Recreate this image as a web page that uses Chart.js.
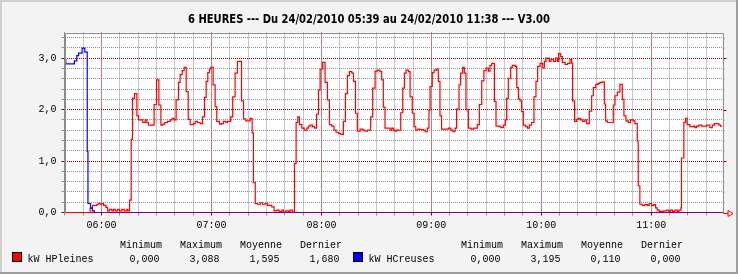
<!DOCTYPE html>
<html><head><meta charset="utf-8">
<script src="https://cdn.jsdelivr.net/npm/chart.js@4.4.0/dist/chart.umd.min.js"></script>
<style>html,body{margin:0;padding:0;background:#f3f3f3;}canvas{display:block;}</style>
</head><body>
<canvas id="c" width="738" height="274"></canvas>
<script>
// ---- chart texts ----
const titleText = '6 HEURES --- Du 24/02/2010 05:39 au 24/02/2010 11:38 --- V3.00';
const hourTicks = [360, 420, 480, 540, 600, 660];
const hourLabels = ['06:00', '07:00', '08:00', '09:00', '10:00', '11:00'];
const yTickValues = [0, 1, 2, 3];
const yTickLabels = ['0,0', '1,0', '2,0', '3,0'];
const seriesNames = ['kW HPleines', 'kW HCreuses'];
const statHeaders = ['Minimum', 'Maximum', 'Moyenne', 'Dernier'];
const hpStats = ['0,000', '3,088', '1,595', '1,680'];
const hcStats = ['0,000', '3,195', '0,110', '0,000'];

// ---- time range (minutes after midnight) ----
const xStart = 339.8;
const xEnd = 698.9;

// ---- kW HPleines: time where each value starts (minutes), value (kW) ----
const hpTimes = [339.8,353.8,355.1,357.5,358.4,359.3,360.2,361.1,362.4,363.3,364.4,365.6,366.5,367.5,368.7,369.8,371.1,372.4,373.8,374.4,
375.3,376.2,376.9,378.0,379.3,380.2,382.5,383.8,384.7,385.6,388.7,390.0,391.3,392.4,393.5,394.5,396.0,397.5,398.5,399.6,
400.7,402.0,402.9,404.0,405.1,406.2,407.3,408.4,410.2,411.1,412.4,413.8,415.1,416.2,417.1,418.0,418.9,419.6,420.9,422.0,
422.9,424.4,425.3,426.5,427.8,428.7,430.5,431.6,432.9,434.2,436.4,437.5,438.7,441.1,442.2,442.9,443.9,445.1,446.6,447.8,
449.3,450.6,452.9,454.2,455.6,456.9,458.4,459.3,460.6,462.0,462.9,464.2,465.3,466.2,467.1,468.0,469.3,470.6,472.0,472.9,
473.8,475.1,476.2,477.3,478.4,479.3,480.7,482.0,483.3,484.4,485.6,486.9,488.0,489.3,490.6,492.0,493.1,494.2,495.3,496.6,
497.5,498.6,499.6,501.1,502.6,503.8,505.1,506.9,508.0,509.3,510.6,512.0,512.9,513.8,514.7,517.5,518.4,519.3,520.2,521.1,
523.3,524.4,525.3,526.2,527.5,528.4,529.6,530.6,531.5,532.6,533.8,535.6,536.6,537.8,538.7,539.3,540.5,541.5,542.9,543.8,
544.7,545.6,549.3,550.6,551.7,552.9,553.8,555.1,556.0,557.1,558.0,558.9,560.2,561.7,563.0,565.1,566.2,567.5,568.7,569.8,
571.1,572.0,573.0,574.4,575.3,577.1,578.0,579.3,580.4,581.1,582.0,583.3,584.2,585.7,586.6,587.5,588.4,589.3,590.2,591.5,
592.4,593.5,594.7,596.0,597.1,598.0,599.3,600.8,601.7,602.6,604.4,605.3,606.6,607.8,608.8,609.5,610.6,611.5,613.0,614.4,
615.7,616.6,617.1,618.2,619.3,620.2,621.5,622.6,623.8,624.8,626.2,627.5,628.4,629.7,631.1,632.0,633.3,634.4,635.1,636.0,
639.3,640.2,641.5,642.9,644.2,645.1,646.2,647.5,648.7,650.2,651.1,652.4,652.9,653.8,655.1,656.5,658.0,658.9,660.2,661.5,
662.4,663.3,664.4,665.6,666.9,668.4,669.6,670.5,671.6,672.9,674.2,675.1,676.2,676.5,677.8,678.7,679.6,681.1,682.9,683.8,
684.7,686.0,687.5,688.9,690.2,692.0,693.3,694.4,695.6,696.9,697.8,698.9];
const hpValues = [0,0.08,0.14,0.16,0.18,0.16,0.175,0.14,0.10,0.03,0.06,0.03,0.06,0.03,0.06,0.03,0.06,0.03,0.06,0.03,
0.24,1.42,2.22,2.31,1.88,1.80,1.75,1.80,1.75,1.70,2.10,2.58,2.09,1.70,1.72,1.75,1.77,1.80,1.83,1.80,
2.19,2.53,2.68,2.76,2.82,2.35,1.81,1.71,1.73,1.77,1.75,1.73,1.86,2.24,2.55,2.72,2.79,2.82,2.48,2.06,
1.77,1.72,1.73,1.77,1.75,1.77,1.86,2.25,2.71,2.94,2.17,1.82,1.78,1.83,1.55,0.58,0.175,0.16,0.19,0.16,
0.175,0.14,0.11,0.03,0.045,0.02,0.045,0.01,0.03,0.02,0.045,0.01,0.95,1.75,1.86,1.71,1.64,1.60,1.64,1.68,
1.70,1.67,1.64,1.91,2.38,2.79,2.92,2.53,2.19,1.71,1.68,1.60,1.56,1.54,1.52,1.77,2.31,2.66,2.74,2.71,
2.55,1.93,1.58,1.62,1.60,1.58,1.60,1.86,2.42,2.75,2.77,2.74,2.58,2.05,1.64,1.60,1.64,1.60,1.58,1.60,
1.94,2.42,2.71,2.77,2.74,2.25,1.93,1.67,1.60,1.62,1.61,1.60,1.57,1.64,1.99,2.45,2.72,2.77,2.79,2.55,
1.88,1.62,1.64,1.60,1.57,1.64,2.01,2.48,2.71,2.82,2.71,2.00,1.64,1.62,1.64,1.71,2.10,2.56,2.76,2.81,
2.75,2.86,2.90,2.16,1.68,1.67,1.65,1.70,1.80,2.22,2.61,2.82,2.86,2.84,2.43,2.21,2.17,1.96,1.70,1.67,
1.64,1.70,1.75,2.25,2.55,2.84,2.90,2.81,2.94,3.00,2.94,2.98,2.94,3.00,2.94,3.088,3.03,2.92,2.88,2.90,
2.98,2.90,2.17,1.77,1.81,1.83,1.80,1.77,1.80,1.73,1.97,2.27,2.43,2.49,2.51,2.53,2.54,2.11,1.78,1.75,
2.09,2.27,2.34,2.49,2.20,1.88,1.78,1.75,1.80,1.78,1.73,1.39,0.52,0.16,0.14,0.155,0.14,0.175,0.14,0.155,
0.09,0.045,0.02,0.02,0.03,0.045,0.02,0.045,0.02,0.045,0.02,0.045,0.09,1.06,1.75,1.83,1.71,1.67,1.68,1.65,
1.68,1.70,1.68,1.68,1.70,1.65,1.70,1.73,1.73,1.70,1.68,1.68];

// ---- kW HCreuses ----
const hcTimes = [339.8,340.5,345.2,346.5,347.5,349.4,350.9,352.2,352.6,354.0,355.0,356.1,698.9];
const hcValues = [2.98,2.89,2.95,3.05,3.10,3.195,3.12,1.19,0.175,0.09,0.03,0,0];

// ---- colours ----
const C_BACK = '#f3f3f3', C_SHADEA = '#cfcfcf', C_SHADEB = '#9e9e9e';
const C_GRID = '#8f8f8f', C_MGRID = '#800000', C_FRAME = '#8c8c8c';
const C_HP = '#ff0000', C_HC = '#0000ff';
const MONO = "'Liberation Mono', 'DejaVu Sans Mono', monospace";

const toPts = (ts, vs) => ts.map((t, i) => ({ x: t, y: vs[i] }));
const isMajorX = v => Math.abs(v % 60) < 1e-6;
const isMajorY = v => Math.abs(v - Math.round(v)) < 1e-6;

const framePlugin = {
  id: 'frame',
  beforeDraw(chart) {
    const { ctx, width, height, chartArea: a } = chart;
    ctx.save();
    ctx.fillStyle = C_BACK; ctx.fillRect(0, 0, width, height);
    ctx.fillStyle = C_SHADEA; ctx.fillRect(0, 0, width, 2); ctx.fillRect(0, 0, 2, height);
    ctx.fillStyle = C_SHADEB; ctx.fillRect(width - 2, 0, 2, height); ctx.fillRect(0, height - 2, width, 2);
    ctx.fillStyle = '#ffffff'; ctx.fillRect(a.left, a.top, a.right - a.left, a.bottom - a.top);
    ctx.restore();
  },
  afterDraw(chart) {
    const { ctx, chartArea: a, scales } = chart;
    ctx.save();
    // frame: left axis, top & right
    ctx.strokeStyle = C_FRAME; ctx.lineWidth = 1;
    const l = Math.round(a.left) + 0.5, t = Math.round(a.top) + 0.5, r = Math.round(a.right) + 0.5, b = Math.round(a.bottom) + 0.5;
    ctx.beginPath(); ctx.moveTo(l, b); ctx.lineTo(l, t); ctx.lineTo(r, t); ctx.lineTo(r, b); ctx.stroke();
    // right ticks on y grid
    scales.y.ticks.forEach(tk => {
      const y = Math.round(scales.y.getPixelForValue(tk.value)) + 0.5;
      ctx.strokeStyle = isMajorY(tk.value) ? C_MGRID : C_GRID;
      ctx.beginPath(); ctx.moveTo(r, y); ctx.lineTo(r + (isMajorY(tk.value) ? 3 : 1), y); ctx.stroke();
    });
    // x arrow
    ctx.strokeStyle = C_HP; ctx.fillStyle = '#ffffff';
    ctx.beginPath(); ctx.moveTo(r, b); ctx.lineTo(r + 5, b); ctx.stroke();
    ctx.beginPath(); ctx.moveTo(r + 4.5, b - 3); ctx.lineTo(r + 9.5, b); ctx.lineTo(r + 4.5, b + 3); ctx.closePath(); ctx.stroke();
    // title
    ctx.fillStyle = '#000000';
    ctx.font = "bold 12px 'DejaVu Sans Condensed', 'DejaVu Sans', sans-serif";
    ctx.textBaseline = 'alphabetic'; ctx.textAlign = 'left';
    const tw = ctx.measureText(titleText).width, target = 362;
    const sx = target / tw;
    ctx.save(); ctx.translate(369 - target / 2, 23); ctx.scale(sx, 1); ctx.fillText(titleText, 0, 0); ctx.restore();
    // legend
    ctx.font = '10px ' + MONO;
    const blocks = [[0, C_HP, seriesNames[0], hpStats], [341, C_HC, seriesNames[1], hcStats]];
    blocks.forEach(([off, col, name, stats]) => {
      ctx.fillStyle = col; ctx.fillRect(12 + off, 252, 10, 10);
      ctx.strokeStyle = '#000000'; ctx.strokeRect(12.5 + off, 252.5, 9, 9);
      ctx.fillStyle = '#000000'; ctx.textAlign = 'left';
      ctx.fillText(name, 27.5 + off, 262);
      statHeaders.forEach((h, i) => { ctx.textAlign = 'left'; ctx.fillText(h, 120 + off + 60 * i, 247.5); });
      stats.forEach((s, i) => { ctx.textAlign = 'right'; ctx.fillText(s, 159.5 + off + 60 * i, 262); });
    });
    ctx.restore();
  }
};

new Chart(document.getElementById('c'), {
  type: 'line',
  data: {
    datasets: [
      { label: seriesNames[0], data: toPts(hpTimes, hpValues), borderColor: C_HP, borderWidth: 1.2, pointRadius: 0, stepped: 'before', fill: false, order: 1 },
      { label: seriesNames[1], data: toPts(hcTimes, hcValues), borderColor: C_HC, borderWidth: 1.2, pointRadius: 0, stepped: 'before', fill: false, order: 0 }
    ]
  },
  options: {
    responsive: false, animation: false, devicePixelRatio: 1,
    layout: { padding: { top: 32.5, right: 15.5, bottom: 0, left: 0 } },
    plugins: { legend: { display: false }, tooltip: { enabled: false }, title: { display: false } },
    scales: {
      x: {
        type: 'linear', min: xStart, max: xEnd,
        afterFit(s) { s.height = 61.5; },
        afterBuildTicks(s) { const a = []; for (let v = 340; v <= 690; v += 10) a.push({ value: v }); s.ticks = a; },
        ticks: {
          autoSkip: false, maxRotation: 0, padding: 4, color: '#000000',
          font: { family: MONO, size: 10 },
          callback: v => { const i = hourTicks.indexOf(v); return i >= 0 ? hourLabels[i] : ''; }
        },
        grid: {
          color: c => (c.tick && isMajorX(c.tick.value)) ? C_MGRID : C_GRID,
          tickColor: c => (c.tick && isMajorX(c.tick.value)) ? C_MGRID : C_GRID,
          tickLength: 3, lineWidth: 1
        },
        border: { display: true, color: C_HP, dash: [1, 1] }
      },
      y: {
        type: 'linear', min: 0, max: 3.5,
        afterFit(s) { s.width = 64.5; },
        afterBuildTicks(s) { const a = []; for (let k = 0; k <= 17; k++) a.push({ value: Math.round(k * 2) / 10 }); s.ticks = a; },
        ticks: {
          autoSkip: false, padding: 5, color: '#000000',
          font: { family: MONO, size: 10 },
          callback: v => { const i = yTickValues.findIndex(t => Math.abs(t - v) < 1e-6); return i >= 0 ? yTickLabels[i] : ''; }
        },
        grid: {
          color: c => (c.tick && isMajorY(c.tick.value)) ? C_MGRID : C_GRID,
          tickColor: c => (c.tick && isMajorY(c.tick.value)) ? C_MGRID : C_GRID,
          tickLength: 3, lineWidth: 1
        },
        border: { display: true, color: C_FRAME, dash: [1, 1] }
      }
    }
  },
  plugins: [framePlugin]
});
</script>
</body></html>
